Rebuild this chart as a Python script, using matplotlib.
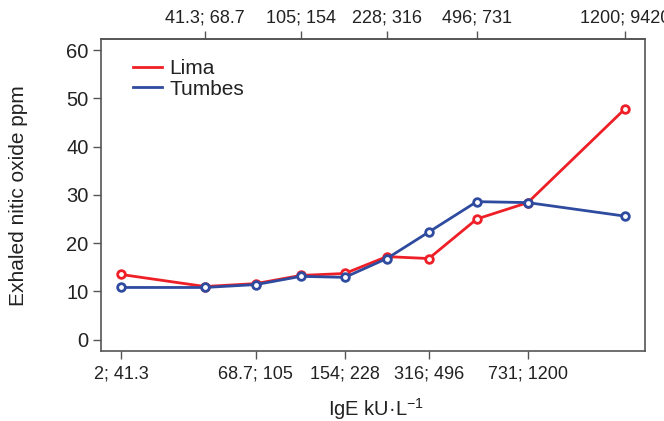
import matplotlib
matplotlib.use("Agg")
import matplotlib.pyplot as plt

plt.rcParams['font.family'] = ['Liberation Sans', 'DejaVu Sans']

# plotting positions of the 10 IgE deciles (relative units)
xpos = [0.0, 0.84, 1.35, 1.80, 2.24, 2.66, 3.08, 3.56, 4.07, 5.04]
lima = [13.5, 11.0, 11.6, 13.3, 13.7, 17.2, 16.8, 25.0, 28.4, 47.8]
tumbes = [10.8, 10.8, 11.4, 13.1, 12.9, 16.8, 22.3, 28.6, 28.4, 25.6]

bottom_labels = ["2; 41.3", "68.7; 105", "154; 228", "316; 496", "731; 1200"]
top_labels = ["41.3; 68.7", "105; 154", "228; 316", "496; 731", "1200; 9420"]

red = "#ee1f26"
blue = "#2f4b9f"
gray = "#555555"
txt = "#222222"

fig = plt.figure(figsize=(6.64, 4.21), dpi=100)
ax = fig.add_axes([0.152, 0.166, 0.819, 0.741])

ax.plot(xpos, lima, color=red, lw=2, marker='o', ms=5.5, mfc='white',
        mec=red, mew=2, label="Lima", zorder=3)
ax.plot(xpos, tumbes, color=blue, lw=2, marker='o', ms=5.5, mfc='white',
        mec=blue, mew=2, label="Tumbes", zorder=4)

ax.set_xlim(-0.20, 5.24)
ax.set_ylim(-2.4, 62.3)
ax.set_yticks(range(0, 61, 10))
ax.set_xticks(xpos[0::2])
ax.set_xticklabels(bottom_labels)

top = ax.secondary_xaxis('top')
top.set_xticks(xpos[1::2])
top.set_xticklabels(top_labels)

for a in (ax, top):
    a.tick_params(direction='out', length=6, width=1, color=gray,
                  labelsize=13, labelcolor=txt, pad=3)
ax.tick_params(axis='x', pad=4)
ax.tick_params(axis='y', labelsize=14.5)
for s in ax.spines.values():
    s.set_color(gray)
    s.set_linewidth(1.2)
top.spines['top'].set_color(gray)
top.spines['top'].set_linewidth(1.2)

ax.set_ylabel("Exhaled nitic oxide ppm", fontsize=15, color=txt)
ax.yaxis.set_label_coords(-0.134, 0.5)
ax.set_xlabel("IgE kU·L$^{\\mathregular{-1}}$", fontsize=14.5, color=txt)
ax.xaxis.set_label_coords(0.505, -0.145)

leg = ax.legend(loc='upper left', bbox_to_anchor=(0.025, 0.995), frameon=False,
                fontsize=15, handlelength=1.4, handletextpad=0.35,
                labelspacing=0.05, markerscale=0)
for h in leg.legend_handles:
    h.set_marker('')
for t in leg.get_texts():
    t.set_color(txt)

fig.savefig("out.png", dpi=100)
